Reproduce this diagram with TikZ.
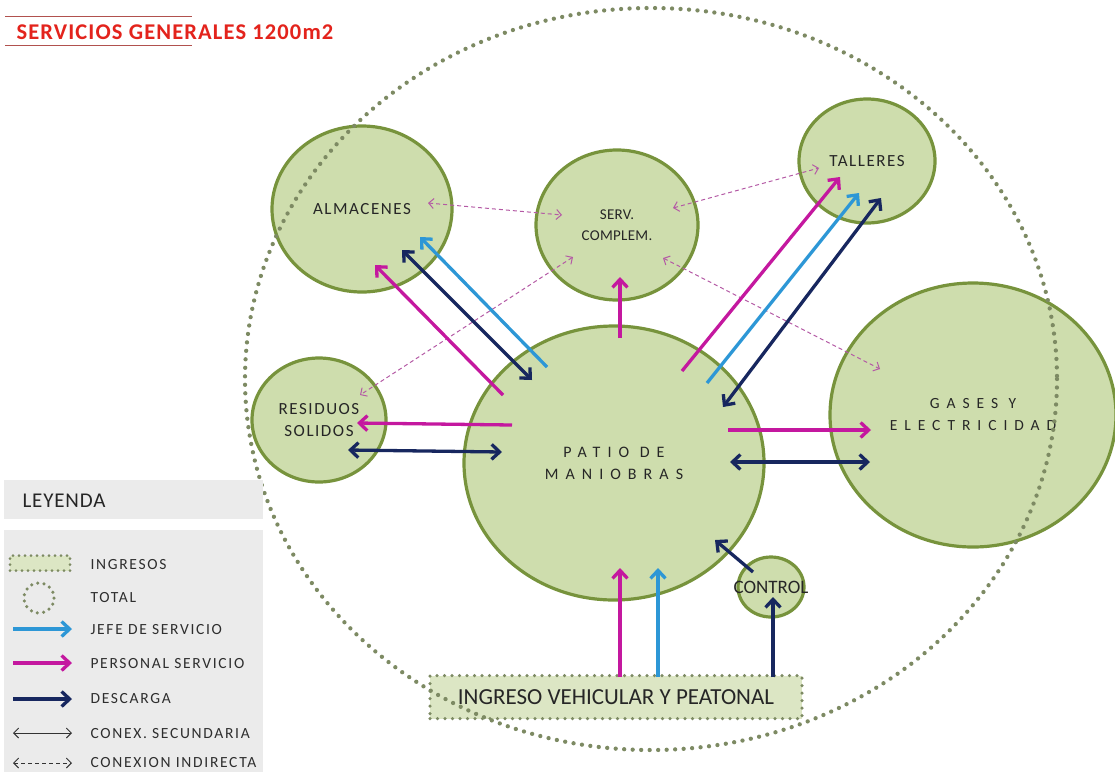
\documentclass[tikz,border=0pt]{standalone}
\usepackage{fontspec}
\setmainfont{Carlito}
\usetikzlibrary{arrows.meta,shapes.geometric}
\definecolor{fillg}{HTML}{CEDDAD}
\definecolor{edgeg}{HTML}{77933C}
\definecolor{dotg}{HTML}{7D8A63}
\definecolor{ingfill}{HTML}{DCE6C4}
\definecolor{mag}{HTML}{C4189F}
\definecolor{sky}{HTML}{2D97D6}
\definecolor{navy}{HTML}{17275F}
\definecolor{dmag}{HTML}{B45AA5}
\definecolor{titred}{HTML}{E3231C}
\definecolor{legg}{HTML}{EBEBEB}
\tikzset{
  zone/.style={ellipse,draw=edgeg,fill=fillg,line width=3.2pt,inner sep=0pt,align=center,text=black!85,font=\fontsize{17}{22}\selectfont\addfontfeature{LetterSpace=9}},
  bigarrow/.style={line width=3.3pt,-{Straight Barb[length=8pt,width=15pt]}},
  dblarrow/.style={line width=3.3pt,{Straight Barb[length=8pt,width=15pt]}-{Straight Barb[length=8pt,width=15pt]}},
  indirect/.style={dmag,line width=1pt,dash pattern=on 4pt off 3pt,{Straight Barb[length=5pt,width=10pt]}-{Straight Barb[length=5pt,width=10pt]}},
  dotline/.style={draw=dotg,line width=4.3pt,line cap=round,dash pattern=on 0pt off 8.5pt},
  legtext/.style={anchor=west,font=\fontsize{15.5}{17}\selectfont\addfontfeature{LetterSpace=11},text=black!82},
}
\begin{document}
\begin{tikzpicture}[x=1pt,y=-1pt]
\useasboundingbox (0,0) rectangle (1115,772);
% title
\draw[titred!50!gray,line width=0.8pt] (5,16) -- (192,16);
\draw[titred!50!gray,line width=0.8pt] (5,45) -- (192,45);
\node[anchor=west,text=titred,font=\fontsize{22.5}{26}\selectfont\bfseries\addfontfeature{LetterSpace=5}] (title) at (13,32) {SERVICIOS GENERALES 1200m2};
% zones
\node[zone,minimum width=180pt,minimum height=166pt] (alm) at (362,209) {ALMACENES};
\node[zone,minimum width=162pt,minimum height=150pt,font=\fontsize{15}{21}\selectfont\addfontfeature{LetterSpace=2}] (serv) at (617,225) {SERV.\\COMPLEM.};
\node[zone,minimum width=136pt,minimum height=124pt] (tall) at (867,161) {TALLERES};
\node[zone,minimum width=286pt,minimum height=264pt,font=\fontsize{15.5}{22}\selectfont\addfontfeature{LetterSpace=45}] (gas) at (973,415) {GASES Y\\ELECTRICIDAD};
\node[zone,minimum width=134pt,minimum height=124pt] (res) at (319,420) {RESIDUOS\\SOLIDOS};
\node[zone,minimum width=300pt,minimum height=274pt,font=\fontsize{16}{22}\selectfont\addfontfeature{LetterSpace=44}] (patio) at (614,463) {PATIO DE\\MANIOBRAS};
\node[zone,minimum width=66pt,minimum height=60pt,label={[font=\fontsize{19}{20}\selectfont,text=black!85]center:CONTROL}] (ctrl) at (771,587) {};
\node[draw=dotg,fill=ingfill,line width=3.5pt,dash pattern=on 0pt off 7.5pt,line cap=round,minimum width=372pt,minimum height=43pt,inner sep=0pt,text=black!85,font=\fontsize{23}{26}\selectfont] (ing) at (616,697) {INGRESO VEHICULAR Y PEATONAL};
% outer total boundary
\draw[dotline] (651,379) ellipse [x radius=406, y radius=371];
% arrow end points
\coordinate (a1s) at (503,395); \coordinate (a1e) at (375,265);
\coordinate (a2s) at (402,250); \coordinate (a2e) at (532,380);
\coordinate (a3s) at (547,367); \coordinate (a3e) at (420,237);
\coordinate (a4s) at (620,338); \coordinate (a4e) at (620,277);
\coordinate (a5s) at (512,425); \coordinate (a5e) at (357,423);
\coordinate (a6s) at (348,450); \coordinate (a6e) at (502,452);
\coordinate (t1s) at (682,371); \coordinate (t1e) at (840,177);
\coordinate (t2s) at (707,383); \coordinate (t2e) at (859,193);
\coordinate (t3s) at (723,407); \coordinate (t3e) at (881,198);
\coordinate (g1s) at (728,430); \coordinate (g1e) at (871,430);
\coordinate (g2s) at (730,462); \coordinate (g2e) at (870,462);
\coordinate (c1s) at (753,572); \coordinate (c1e) at (715,540);
\coordinate (i1s) at (620,677); \coordinate (i1e) at (620,568);
\coordinate (i2s) at (658,677); \coordinate (i2e) at (658,568);
\coordinate (i3s) at (773,677); \coordinate (i3e) at (773,597);
\coordinate (d1s) at (428,203); \coordinate (d1e) at (562,215);
\coordinate (d2s) at (573,257); \coordinate (d2e) at (360,395);
\coordinate (d3s) at (673,208); \coordinate (d3e) at (819,168);
\coordinate (d4s) at (663,258); \coordinate (d4e) at (880,369);
% dashed indirect connections
\draw[indirect] (d1s) -- (d1e);
\draw[indirect] (d2s) -- (d2e);
\draw[indirect] (d3s) -- (d3e);
\draw[indirect] (d4s) -- (d4e);
% main arrows
\draw[bigarrow,mag] (a1s) -- (a1e);
\draw[dblarrow,navy] (a2s) -- (a2e);
\draw[bigarrow,sky] (a3s) -- (a3e);
\draw[bigarrow,mag] (a4s) -- (a4e);
\draw[bigarrow,mag] (a5s) -- (a5e);
\draw[dblarrow,navy] (a6s) -- (a6e);
\draw[bigarrow,mag] (t1s) -- (t1e);
\draw[bigarrow,sky] (t2s) -- (t2e);
\draw[dblarrow,navy] (t3s) -- (t3e);
\draw[bigarrow,mag] (g1s) -- (g1e);
\draw[dblarrow,navy] (g2s) -- (g2e);
\draw[bigarrow,navy] (c1s) -- (c1e);
\draw[bigarrow,mag] (i1s) -- (i1e);
\draw[bigarrow,sky] (i2s) -- (i2e);
\draw[bigarrow,navy] (i3s) -- (i3e);
% legend
\fill[legg] (4,480) rectangle (263,519);
\node[anchor=west,font=\fontsize{21}{24}\selectfont\addfontfeature{LetterSpace=4},text=black!85] (leytit) at (19,501) {LEYENDA};
\fill[legg] (4,530) rectangle (263,772);
\node[draw=dotg,fill=ingfill,line width=3pt,dash pattern=on 0pt off 6pt,line cap=round,minimum width=60pt,minimum height=15pt,inner sep=0pt] (kIng) at (40,563) {};
\node[legtext] (tIng) at (87,565) {INGRESOS};
\draw[dotline,line width=3.5pt,dash pattern=on 0pt off 6.3pt] (39,598) circle [radius=15];
\node[legtext] (tTot) at (87,598) {TOTAL};
\coordinate (k1s) at (13,629); \coordinate (k1e) at (72,629);
\coordinate (k2s) at (13,663); \coordinate (k2e) at (72,663);
\coordinate (k3s) at (13,699); \coordinate (k3e) at (72,699);
\coordinate (k4s) at (13,733); \coordinate (k4e) at (72,733);
\coordinate (k5s) at (13,763); \coordinate (k5e) at (72,763);
\draw[bigarrow,sky] (k1s) -- (k1e);
\draw[bigarrow,mag] (k2s) -- (k2e);
\draw[bigarrow,navy] (k3s) -- (k3e);
\draw[line width=0.9pt,black!80,{Straight Barb[length=5pt,width=10pt]}-{Straight Barb[length=5pt,width=10pt]}] (k4s) -- (k4e);
\draw[line width=0.9pt,black!80,dash pattern=on 4pt off 3pt,{Straight Barb[length=5pt,width=10pt]}-{Straight Barb[length=5pt,width=10pt]}] (k5s) -- (k5e);
\node[legtext] (tJefe) at (87,630) {JEFE DE SERVICIO};
\node[legtext] (tPers) at (87,664) {PERSONAL SERVICIO};
\node[legtext] (tDesc) at (87,699) {DESCARGA};
\node[legtext] (tConx) at (87,734) {CONEX. SECUNDARIA};
\node[legtext] (tInd) at (87,763) {CONEXION INDIRECTA};
\end{tikzpicture}
\end{document}
